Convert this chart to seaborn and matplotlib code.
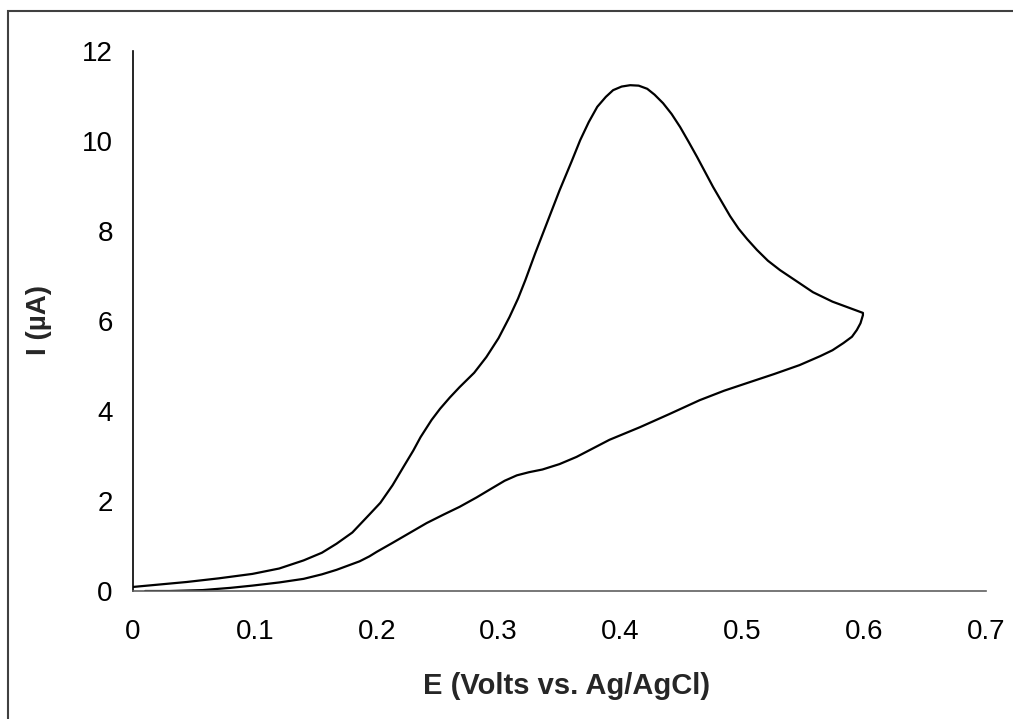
import numpy as np
import pandas as pd
import matplotlib
matplotlib.use("Agg")
import matplotlib.pyplot as plt
from matplotlib.patches import Rectangle
from matplotlib.ticker import FuncFormatter
import seaborn as sns

# Forward (anodic) scan
e_forward = [0.000, 0.020, 0.044, 0.070, 0.098, 0.120, 0.140, 0.155, 0.167, 0.180,
             0.194, 0.203, 0.213, 0.222, 0.230, 0.236, 0.245, 0.252, 0.260, 0.268,
             0.280, 0.290, 0.300, 0.309, 0.316, 0.322, 0.330, 0.340, 0.350, 0.360,
             0.367, 0.374, 0.381, 0.388, 0.394, 0.401, 0.408, 0.415, 0.422, 0.428,
             0.435, 0.442, 0.449, 0.456, 0.463, 0.476, 0.490, 0.497,
             0.504, 0.512, 0.521, 0.531, 0.547, 0.558, 0.574, 0.586, 0.599]
i_forward = [0.09, 0.14, 0.20, 0.28, 0.38, 0.50, 0.68, 0.85, 1.05, 1.30,
             1.70, 1.96, 2.35, 2.76, 3.12, 3.42, 3.80, 4.05, 4.30, 4.53,
             4.85, 5.20, 5.62, 6.09, 6.50, 6.91, 7.50, 8.20, 8.90, 9.55,
             10.02, 10.42, 10.76, 10.98, 11.13, 11.21, 11.24, 11.23, 11.16, 11.03,
             10.84, 10.60, 10.31, 9.98, 9.64, 8.98, 8.33, 8.05,
             7.82, 7.58, 7.34, 7.13, 6.84, 6.64, 6.43, 6.31, 6.18]

# Reverse scan
e_reverse = [0.599, 0.597, 0.594, 0.590, 0.583, 0.574, 0.564, 0.547, 0.526, 0.506,
             0.485, 0.465, 0.440, 0.416, 0.391, 0.364, 0.350, 0.336, 0.325, 0.315,
             0.305, 0.295, 0.282, 0.268, 0.255, 0.241, 0.227, 0.213, 0.200, 0.194,
             0.186, 0.167, 0.155, 0.140, 0.120, 0.098, 0.080, 0.057, 0.030, 0.010]
i_reverse = [6.13, 5.95, 5.80, 5.65, 5.51, 5.35, 5.22, 5.02, 4.82, 4.64,
             4.45, 4.24, 3.93, 3.64, 3.36, 2.98, 2.82, 2.70, 2.64, 2.57,
             2.45, 2.29, 2.08, 1.87, 1.70, 1.51, 1.29, 1.07, 0.87, 0.77,
             0.66, 0.47, 0.37, 0.27, 0.19, 0.12, 0.07, 0.02, 0.00, 0.00]

x_ticks = [0, 0.1, 0.2, 0.3, 0.4, 0.5, 0.6, 0.7]
y_ticks = [0, 2, 4, 6, 8, 10, 12]

df = pd.DataFrame({
    "E": e_forward + e_reverse,
    "I": i_forward + i_reverse,
})

sns.set_style("white")
plt.rcParams["font.family"] = ["Liberation Sans", "DejaVu Sans"]

fig = plt.figure(figsize=(10.13, 7.19), dpi=100)
ax = fig.add_axes([133 / 1013, 128 / 719, 853 / 1013, 540 / 719])

sns.lineplot(data=df, x="E", y="I", sort=False, estimator=None,
             color="black", linewidth=1.6, ax=ax)

ax.set_xlim(0, 0.7)
ax.set_ylim(0, 12)
ax.set_xticks(x_ticks)
ax.set_yticks(y_ticks)
ax.xaxis.set_major_formatter(FuncFormatter(lambda v, p: "0" if abs(v) < 1e-9 else f"{v:.1f}"))

for s in ["top", "right"]:
    ax.spines[s].set_visible(False)
ax.spines["left"].set_color("black")
ax.spines["left"].set_linewidth(1.2)
ax.spines["bottom"].set_color("#606060")
ax.spines["bottom"].set_linewidth(1.2)

ax.tick_params(axis="both", direction="out", length=6.5, width=1.0,
               colors="#606060", labelcolor="black", labelsize=20)
ax.tick_params(axis="y", pad=8)
ax.tick_params(axis="x", pad=14)

ax.set_xlabel("E (Volts vs. Ag/AgCl)", fontsize=21, fontweight="bold")
ax.set_ylabel("I (\u00b5A)", fontsize=20, fontweight="bold")
ax.xaxis.set_label_coords((567 - 133) / 853, -(672 - 591) / 540)
ax.yaxis.set_label_coords(-(133 - 52) / 853, (591 - 320) / 540)

# outer chart frame
fig.patches.append(Rectangle((8 / 1013, -0.1), 1.2, 0.1 + (719 - 11) / 719,
                             transform=fig.transFigure, fill=False,
                             edgecolor="#404040", linewidth=1.5, zorder=0))

fig.savefig("out.png", dpi=100)
